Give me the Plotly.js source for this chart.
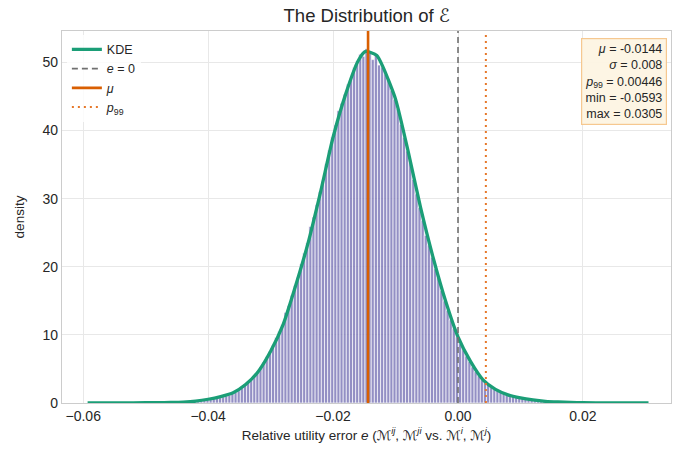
<!DOCTYPE html>
<html>
<head>
<meta charset="utf-8">
<script src="https://cdn.plot.ly/plotly-3.0.1.min.js"></script>
<style>html,body{margin:0;padding:0;background:#fff;}#chart{width:673px;height:453px;}</style>
</head>
<body>
<div id="chart"></div>
<script>
// ---- data ----
const binStart = -0.0593;
const binWidth = 0.000499;
const histDensity = [
  0.01, 0, 0, 0, 0, 0, 0.01, 0, 0, 0.01,
  0, 0.01, 0, 0.02, 0.02, 0.01, 0.02, 0.03, 0.02, 0.03,
  0.04, 0.04, 0.05, 0.05, 0.06, 0.07, 0.08, 0.09, 0.11, 0.12,
  0.15, 0.17, 0.2, 0.23, 0.27, 0.3, 0.35, 0.4, 0.46, 0.53,
  0.6, 0.68, 0.78, 0.9, 1.02, 1.17, 1.34, 1.55, 1.8, 2.2,
  2.7, 3.1, 3.5, 4.0, 4.6, 5.3, 6.0, 6.8, 7.6, 8.5,
  9.6, 10.5, 11.5, 13.3, 14.3, 15.8, 17.2, 18.5, 20.4, 22.0,
  23.5, 25.9, 27.3, 29.1, 31.0, 32.6, 35.1, 37.1, 39.0, 40.8,
  42.9, 44.0, 45.3, 46.8, 47.6, 49.2, 50.2, 51.2, 50.9, 52.0,
  51.3, 50.4, 51.2, 49.6, 49.3, 48.3, 47.5, 45.9, 44.6, 43.2,
  40.9, 39.0, 37.0, 35.3, 32.8, 30.7, 28.7, 26.8, 24.6, 23.2,
  21.4, 19.7, 18.5, 16.5, 15.0, 13.6, 12.2, 10.9, 9.7, 8.7,
  7.8, 6.9, 6.1, 5.3, 4.6, 4.0, 3.4, 3.0, 2.6, 2.3,
  2.0, 1.8, 1.6, 1.4, 1.2, 1.08, 0.96, 0.85, 0.75, 0.66,
  0.58, 0.51, 0.45, 0.4, 0.34, 0.29, 0.25, 0.22, 0.19, 0.17,
  0.15, 0.13, 0.11, 0.1, 0.08, 0.07, 0.06, 0.05, 0.05, 0.04,
  0.04, 0.03, 0.03, 0.02, 0.02, 0.02, 0.02, 0.01, 0.01, 0.01,
  0, 0.01, 0, 0, 0.01, 0, 0, 0, 0, 0.01
];
const kdeX = [-0.0593, -0.056, -0.052, -0.048, -0.046, -0.044, -0.042, -0.040, -0.038, -0.036,
  -0.034, -0.032, -0.030, -0.028, -0.026, -0.024, -0.022, -0.020, -0.018, -0.016,
  -0.0148, -0.013, -0.012, -0.010, -0.008, -0.006, -0.004, -0.002, 0.0, 0.002,
  0.004, 0.006, 0.008, 0.010, 0.012, 0.014, 0.016, 0.018, 0.020, 0.024, 0.0305];
const kdeY = [0.005, 0.01, 0.02, 0.05, 0.08, 0.14, 0.28, 0.55, 0.95, 1.5,
  2.7, 4.6, 7.6, 11.5, 17.2, 23.5, 31.0, 39.0, 45.3, 50.2,
  51.6, 51.0, 49.3, 44.6, 37.0, 28.7, 21.4, 15.0, 9.7, 6.1,
  3.4, 2.0, 1.2, 0.75, 0.45, 0.25, 0.15, 0.08, 0.05, 0.02, 0.005];
const muVal = -0.0144;
const sigmaVal = 0.008;
const p99Val = 0.00446;
const minVal = -0.0593;
const maxVal = 0.0305;
const zeroVal = 0;
const xRange = [-0.0634, 0.0341];
const yRange = [0, 54.6];
const yTicks = [0, 10, 20, 30, 40, 50];
const xTicks = [-0.06, -0.04, -0.02, 0.0, 0.02];

// ---- traces ----
const traces = [
  {
    type: 'bar',
    x0: binStart + binWidth / 2,
    dx: binWidth,
    y: histDensity,
    width: binWidth,
    marker: {color: 'rgba(117,112,179,0.78)', line: {color: 'rgba(255,255,255,0.85)', width: 0.8}},
    showlegend: false,
    hoverinfo: 'skip'
  },
  {
    type: 'scatter', mode: 'lines', x: kdeX, y: kdeY, name: 'KDE',
    line: {color: '#1b9e77', width: 3.3, shape: 'spline', smoothing: 0.6}
  },
  {
    type: 'scatter', mode: 'lines', x: [zeroVal, zeroVal], y: yRange, name: '<i>e</i> = 0',
    line: {color: '#707070', width: 1.6, dash: '6px,4px'}
  },
  {
    type: 'scatter', mode: 'lines', x: [muVal, muVal], y: yRange, name: '<i>μ</i>',
    line: {color: '#d95f02', width: 2.6}
  },
  {
    type: 'scatter', mode: 'lines', x: [p99Val, p99Val], y: yRange, name: '<i>p</i><sub>99</sub>',
    line: {color: '#e6782a', width: 2, dash: '2px,4px'}
  }
];

const statsText = [
  '<i>μ</i> = ' + muVal,
  '<i>σ</i> = ' + sigmaVal,
  '<i>p</i><sub>99</sub> = ' + p99Val,
  'min = ' + minVal,
  'max = ' + maxVal
].join('<br>');

const font = 'Liberation Sans, Arial, DejaVu Sans, sans-serif';
const layout = {
  width: 673, height: 453,
  margin: {l: 62, r: 2, t: 31, b: 50},
  paper_bgcolor: '#ffffff', plot_bgcolor: '#ffffff',
  font: {family: font, color: '#262626', size: 13},
  bargap: 0,
  title: {text: 'The Distribution of ℰ', x: 0.545, xanchor: 'center', y: 0.965, yanchor: 'middle',
          font: {size: 18.5, color: '#262626', family: font}},
  xaxis: {
    range: xRange, tickvals: xTicks, tickformat: '.2f',
    showgrid: true, gridcolor: '#e8e8e8', gridwidth: 1,
    zeroline: false, showline: true, linecolor: '#cccccc', linewidth: 1.2, mirror: true,
    ticks: '', tickfont: {size: 14, color: '#262626'},
    title: {text: 'Relative utility error <i>e</i> (ℳ<sup><i>ij</i></sup>, ℳ<sup><i>ji</i></sup> vs. ℳ<sup><i>i</i></sup>, ℳ<sup><i>j</i></sup>)',
            font: {size: 13.5, color: '#262626'}, standoff: 7}
  },
  yaxis: {
    range: yRange, tickvals: yTicks,
    showgrid: true, gridcolor: '#e8e8e8', gridwidth: 1,
    zeroline: false, showline: true, linecolor: '#cccccc', linewidth: 1.2, mirror: true,
    ticks: '', tickfont: {size: 14, color: '#262626'},
    title: {text: 'density', font: {size: 13.5, color: '#262626'}, standoff: 14}
  },
  legend: {
    x: 0.008, y: 0.99, xanchor: 'left', yanchor: 'top',
    bgcolor: 'rgba(255,255,255,0.8)', borderwidth: 0,
    font: {size: 12.5, color: '#262626'},
    itemwidth: 30, tracegroupgap: 0
  },
  annotations: [{
    xref: 'paper', yref: 'paper', x: 0.993, y: 0.982, xanchor: 'right', yanchor: 'top',
    text: statsText, align: 'right', showarrow: false,
    font: {size: 12.5, color: '#262626'},
    bgcolor: 'rgba(253,244,227,0.95)', bordercolor: '#f6c890', borderwidth: 1.2, borderpad: 3
  }]
};

Plotly.newPlot('chart', traces, layout, {displayModeBar: false, staticPlot: true});
</script>
</body>
</html>
